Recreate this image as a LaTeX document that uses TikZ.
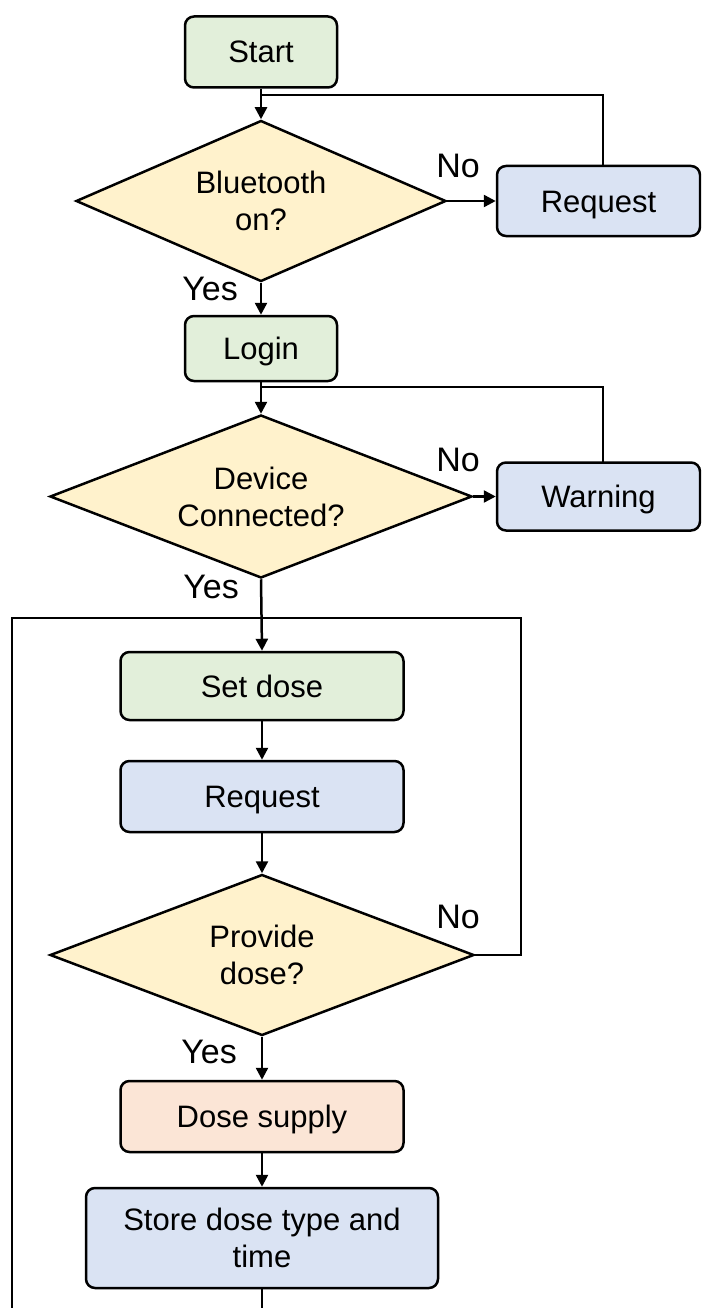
\documentclass[tikz,border=0pt]{standalone}
\usepackage{fontspec}
\setmainfont{Liberation Sans}
\usetikzlibrary{shapes.geometric,arrows.meta}
\definecolor{boxgreen}{HTML}{E2EFDA}
\definecolor{boxblue}{HTML}{DAE3F3}
\definecolor{boxgold}{HTML}{FFF2CC}
\definecolor{boxpeach}{HTML}{FBE5D6}
\tikzset{
  base/.style={draw=black, line width=2.5pt, align=center, inner sep=0pt,
    font=\fontsize{31}{37}\selectfont},
  procbox/.style={base, rectangle, rounded corners=9pt},
  oneline/.style={text height=22pt, text depth=0pt},
  decision/.style={base, diamond, aspect=2.5, fill=boxgold},
  lbl/.style={font=\fontsize{34}{40}\selectfont, inner sep=0pt},
  link/.style={line width=2.5pt},
  arr/.style={link, -{Triangle[length=12pt,width=12pt]}}
}
\begin{document}
\begin{tikzpicture}[x=1pt,y=-1pt]
\useasboundingbox (0,0) rectangle (701,1308);
\clip (0,0) rectangle (701,1308);

% boxes and decisions
\node[procbox, oneline, fill=boxgreen, minimum width=152pt, minimum height=71pt] (start) at (261,52) {Start};
\node[decision, minimum width=370pt, minimum height=161pt] (q1) at (261,201) {Bluetooth\\on?};
\node[procbox, oneline, fill=boxblue, minimum width=203pt, minimum height=70pt] (req1) at (598.5,201) {Request};
\node[procbox, oneline, fill=boxgreen, minimum width=152pt, minimum height=65pt] (login) at (261,348.5) {Login};
\node[decision, minimum width=422pt, minimum height=163pt] (q2) at (261,496.5) {Device\\Connected?};
\node[procbox, oneline, fill=boxblue, minimum width=203pt, minimum height=68pt] (warn) at (598.5,496.5) {Warning};
\node[procbox, oneline, fill=boxgreen, minimum width=283pt, minimum height=68pt] (setdose) at (262,686) {Set dose};
\node[procbox, oneline, fill=boxblue, minimum width=283pt, minimum height=71pt] (req2) at (262,796.5) {Request};
\node[decision, minimum width=424pt, minimum height=161pt] (q3) at (262,955) {Provide\\dose?};
\node[procbox, oneline, fill=boxpeach, minimum width=283pt, minimum height=71pt] (supply) at (262,1116.5) {Dose supply};
\node[procbox, fill=boxblue, minimum width=352pt, minimum height=100pt] (store) at (262,1238) {Store dose type and\\time};

% branch labels
\node[lbl] (no1) at (458,166) {No};
\node[lbl] (yes1) at (210,289) {Yes};
\node[lbl] (no2) at (458,460) {No};
\node[lbl] (yes2) at (211,587) {Yes};
\node[lbl] (no3) at (458,917) {No};
\node[lbl] (yes3) at (209,1052) {Yes};

% junction points of the loops
\coordinate (j1) at (261,95);
\coordinate (r1) at (603,166);
\coordinate (j2) at (261,387);
\coordinate (w1) at (603,462.5);
\coordinate (j3) at (262,618);
\coordinate (outl) at (12,1320);
\coordinate (outr) at (521,618);
\coordinate (tail) at (262,1320);

% main flow
\draw[arr] (start.south) -- (q1.north);
\draw[arr] (q1.east) -- (req1.west);
\draw[link] (r1) |- (j1);
\draw[arr] (q1.south) -- (login.north);
\draw[arr] (login.south) -- (q2.north);
\draw[arr] (q2.east) -- (warn.west);
\draw[link] (w1) |- (j2);
\draw[arr] (q2.south) -- (setdose.north);
\draw[arr] (setdose.south) -- (req2.north);
\draw[arr] (req2.south) -- (q3.north);
\draw[arr] (q3.south) -- (supply.north);
\draw[arr] (supply.south) -- (store.north);
\draw[link] (store.south) -- (tail);

% return loops into "Set dose"
\draw[link] (q3.east) -| (outr) -- (j3);
\draw[link] (outl) |- (j3);
\end{tikzpicture}
\end{document}
